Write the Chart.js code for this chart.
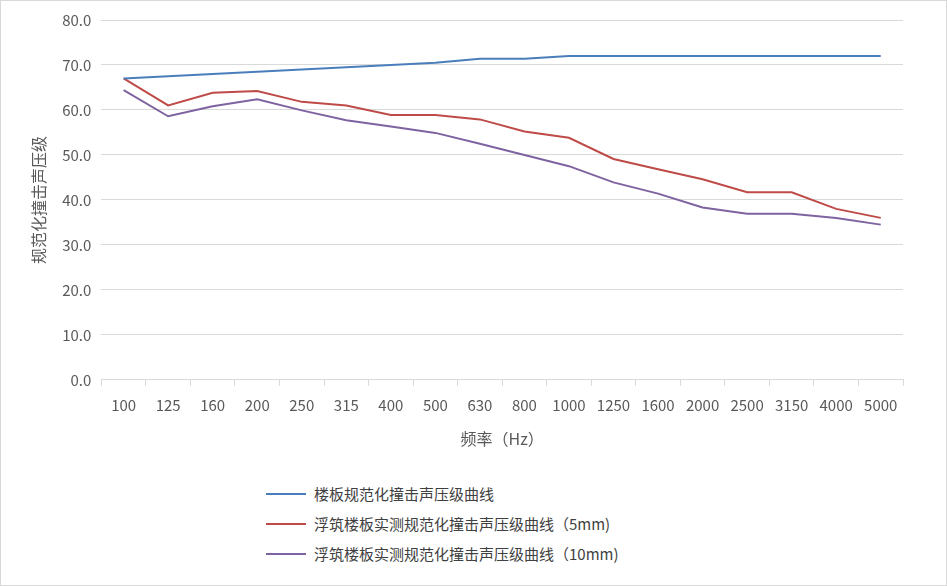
<!DOCTYPE html>
<html><head><meta charset="utf-8">
<script src="https://cdn.jsdelivr.net/npm/chart.js@4"></script>
<style>
body{margin:0;background:#fff;font-family:"Noto Sans CJK SC",sans-serif;}
#wrap{position:absolute;left:0;top:0;width:945px;height:584px;border:1px solid #d9d9d9;}
#box{position:absolute;left:0;top:0;width:945px;height:452px;}
#leg{position:absolute;left:265px;top:478px;font-size:15px;color:#404040;}
.it{height:30px;line-height:26px;display:flex;align-items:center;}
.ln{width:40px;height:2px;margin-right:8px;}
</style></head><body>
<div id="wrap"><div id="box"><canvas id="c"></canvas></div>
<div id="leg"></div></div>
<script>
const categories = ['100','125','160','200','250','315','400','500','630','800','1000','1250','1600','2000','2500','3150','4000','5000'];
const seriesNames = ['楼板规范化撞击声压级曲线','浮筑楼板实测规范化撞击声压级曲线（5mm)','浮筑楼板实测规范化撞击声压级曲线（10mm)'];
const standardValues = [67.0,67.5,68.0,68.5,69.0,69.5,70.0,70.5,71.4,71.4,72,72,72,72,72,72,72,72];
const fiveMmValues = [67.0,61.0,63.8,64.2,61.8,61.0,58.9,58.9,57.9,55.2,53.8,49.1,46.8,44.6,41.7,41.7,38.0,36.0];
const tenMmValues = [64.4,58.6,60.8,62.4,59.9,57.7,56.3,54.9,52.5,50.0,47.5,43.9,41.4,38.3,36.9,36.9,36.0,34.5];
const colors = ['#4a7ebb','#be4b48','#7f63a1'];

const allValues = [standardValues, fiveMmValues, tenMmValues];
const datasets = allValues.map((v, i) => ({
  label: seriesNames[i], data: v, borderColor: colors[i], backgroundColor: colors[i],
  borderWidth: 2, pointRadius: 0, tension: 0, fill: false
}));

const leg = document.getElementById('leg');
seriesNames.forEach((n, i) => {
  leg.innerHTML += `<div class="it"><span class="ln" style="background:${colors[i]}"></span>${n}</div>`;
});

new Chart(document.getElementById('c'), {
  type: 'line',
  data: { labels: categories, datasets },
  options: {
    responsive: true, maintainAspectRatio: false, animation: false,
    layout: { padding: { top: 15, right: 43, left: 24 } },
    plugins: { legend: { display: false }, tooltip: { enabled: false } },
    scales: {
      x: {
        offset: true,
        grid: { display: true, drawOnChartArea: false, offset: true, color: '#d9d9d9', tickLength: 6 },
        border: { color: '#d9d9d9' },
        ticks: { color: '#595959', font: { size: 15, family: 'Noto Sans CJK SC' }, maxRotation: 0, autoSkip: false, padding: 10 },
        title: { display: true, text: '频率（Hz）', color: '#595959', font: { size: 16, family: 'Noto Sans CJK SC' }, padding: { top: 6 } }
      },
      y: {
        min: 0, max: 80,
        grid: { color: '#d9d9d9', drawTicks: false },
        border: { display: false },
        ticks: { stepSize: 10, color: '#595959', padding: 10, font: { size: 15, family: 'Noto Sans CJK SC' }, callback: v => v.toFixed(1) },
        title: { display: true, text: '规范化撞击声压级', color: '#595959', font: { size: 16, family: 'Noto Sans CJK SC' } }
      }
    }
  }
});
</script></body></html>
